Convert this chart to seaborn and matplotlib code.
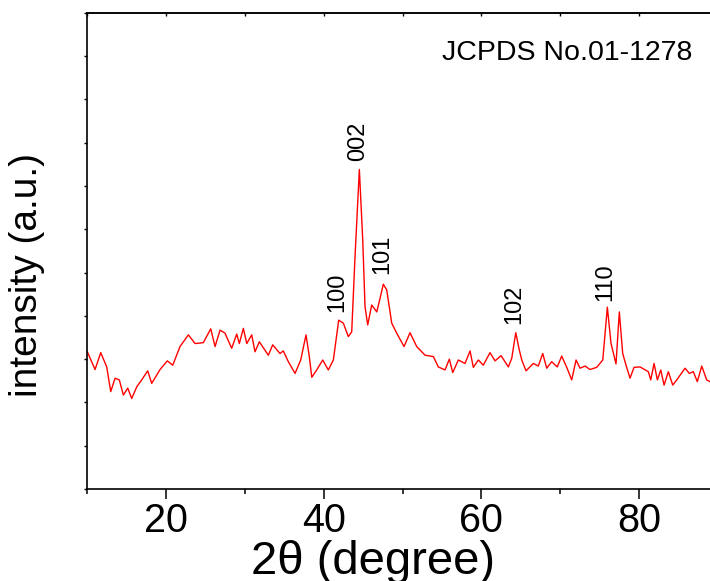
import numpy as np
import pandas as pd
import seaborn as sns
import matplotlib.pyplot as plt
from matplotlib import font_manager
from matplotlib.ticker import MultipleLocator, NullFormatter

# XRD pattern, values
two_theta = [10.00, 10.98, 11.70, 12.46, 12.97, 13.52, 14.06, 14.57, 15.13, 15.63,
             16.27, 16.90, 17.66, 18.17, 19.23, 20.15, 20.84, 21.76, 22.82, 23.67,
             24.72, 25.66, 26.21, 26.84, 27.47, 28.32, 28.96, 29.29, 29.80, 30.23,
             30.86, 31.28, 31.83, 32.97, 33.53, 34.45, 34.87, 35.51, 36.36, 37.08,
             37.75, 38.17, 38.48, 39.11, 39.87, 40.58, 41.22, 41.56, 41.90, 42.49,
             43.12, 43.55, 43.97, 44.52, 44.95, 45.24, 45.58, 46.09, 46.73, 47.14,
             47.56, 47.99, 48.63, 49.26, 50.19, 50.95, 51.80, 52.86, 53.91, 54.54,
             55.39, 55.94, 56.37, 57.08, 57.93, 58.57, 58.98, 59.62, 60.25, 61.10,
             61.74, 62.50, 63.43, 63.86, 64.37, 64.82, 65.13, 65.67, 66.60, 67.23,
             67.79, 68.30, 68.93, 69.64, 70.20, 70.84, 71.47, 72.02, 72.53, 73.16,
             73.79, 74.64, 75.41, 75.99, 76.46, 77.09, 77.51, 77.94, 78.36, 78.87,
             79.38, 80.14, 81.19, 81.50, 81.92, 82.34, 82.77, 83.19, 83.73, 84.29,
             84.80, 85.85, 86.40, 86.90, 87.41, 87.97, 88.60, 89.02]
intensity = [317, 276, 315, 282, 225, 256, 252, 217, 233, 209,
             236, 252, 273, 244, 276, 296, 286, 329, 356, 336,
             338, 370, 329, 367, 360, 325, 358, 336, 371, 336,
             356, 317, 340, 309, 333, 313, 319, 294, 267, 298,
             356, 306, 258, 275, 298, 275, 298, 344, 390, 383,
             352, 363, 536, 738, 575, 421, 379, 425, 409, 440,
             473, 460, 383, 360, 329, 361, 329, 309, 306, 282,
             275, 300, 269, 298, 290, 319, 281, 298, 286, 315,
             296, 308, 282, 302, 361, 321, 298, 273, 290, 284,
             313, 279, 294, 282, 307, 281, 252, 298, 279, 284,
             276, 281, 298, 420, 336, 289, 409, 313, 286, 256,
             281, 282, 271, 252, 290, 252, 275, 240, 271, 240,
             252, 279, 267, 271, 248, 284, 252, 248]

peak_labels = ["100", "002", "101", "102", "110"]
peak_x = [41.71, 44.35, 47.40, 64.17, 75.76]
peak_y = [409, 758, 497, 381, 435]

df = pd.DataFrame({"two_theta": two_theta, "intensity": intensity})

sns.set_style("ticks")
names = {f.name for f in font_manager.fontManager.ttflist}
narrow = "Liberation Sans Narrow" in names
reg = ["Liberation Sans", "DejaVu Sans"]
nar = ["Liberation Sans Narrow"] + reg if narrow else reg
plt.rcParams["font.family"] = reg
plt.rcParams["text.color"] = "black"
plt.rcParams["axes.labelcolor"] = "black"
plt.rcParams["xtick.color"] = "black"
plt.rcParams["ytick.color"] = "black"

fig = plt.figure(figsize=(7.10, 5.81), dpi=100)
ax = fig.add_axes([0.123, 0.1583, 0.8879, 0.8198])

sns.lineplot(data=df, x="two_theta", y="intensity", color="#ff0000",
             linewidth=1.0, ax=ax, estimator=None, sort=False)

ax.set_xlim(10, 90)
ax.set_ylim(0, 1100)

ax.xaxis.set_major_locator(MultipleLocator(20))
ax.xaxis.set_minor_locator(MultipleLocator(10))
ax.yaxis.set_major_locator(MultipleLocator(100))
ax.yaxis.set_major_formatter(NullFormatter())

ax.tick_params(axis="x", which="major", direction="out", length=7, width=1.1,
               pad=2.5, labelsize=32 if narrow else 28.5, colors="black")
ax.tick_params(axis="x", which="minor", direction="out", length=3.5, width=1.1)
ax.tick_params(axis="y", which="major", direction="out", length=2, width=1.0)
for lab in ax.get_xticklabels():
    lab.set_family(nar)

# small inward ticks on the top spine
top = ax.secondary_xaxis("top")
top.xaxis.set_major_locator(MultipleLocator(10))
top.tick_params(direction="in", length=2, width=1.0, labeltop=False)
top.spines["top"].set_linewidth(1.2)

for s in ["left", "bottom", "top", "right"]:
    ax.spines[s].set_linewidth(1.2)
    ax.spines[s].set_color("black")

ax.set_xlabel("2θ (degree)", fontsize=34, family=reg)
ax.xaxis.set_label_coords(0.453, -0.108)
ax.set_ylabel("intensity (a.u.)", fontsize=28, family=reg)
ax.yaxis.set_label_coords(-0.067, 0.449)

for lab, x, y in zip(peak_labels, peak_x, peak_y):
    ax.text(x, y, lab, rotation=90, ha="center", va="bottom",
            fontsize=20 if narrow else 17, family=nar)

ax.text(0.562, 0.9007, "JCPDS No.01-1278", transform=ax.transAxes,
        ha="left", va="baseline", fontsize=25 if narrow else 20.5, family=nar)

fig.savefig("out.png", dpi=100)
